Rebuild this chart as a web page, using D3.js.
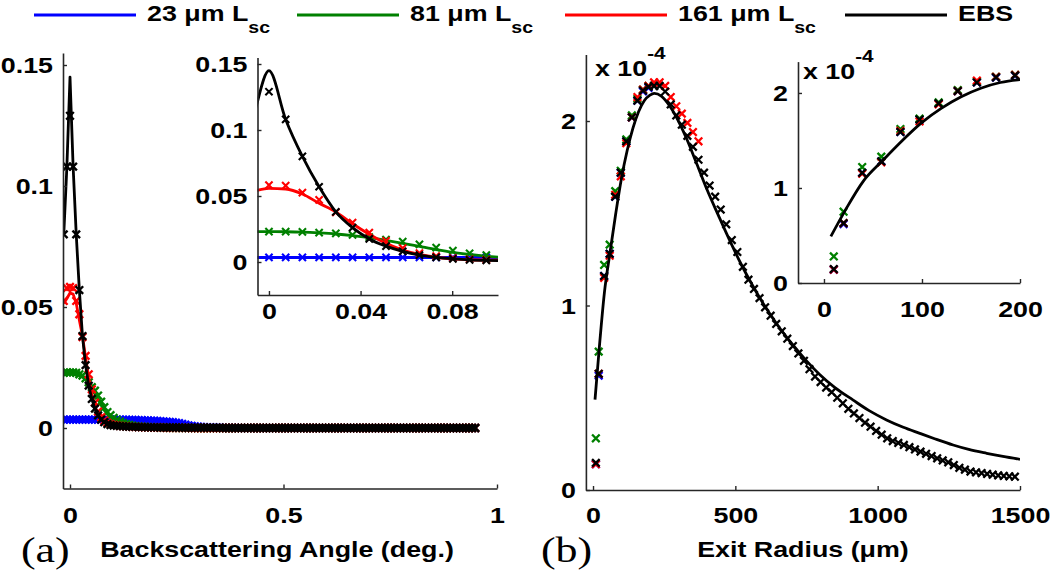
<!DOCTYPE html>
<html><head><meta charset="utf-8">
<script src="https://cdn.jsdelivr.net/npm/d3@7"></script>
<style>body{margin:0;background:#fff}svg{display:block}</style>
</head><body>
<svg id="chart" width="1050" height="573"></svg>
<script>
// ---------------- DATA ----------------
const seriesNames = ["23 \u03bcm L", "81 \u03bcm L", "161 \u03bcm L", "EBS"];
const seriesSubs = ["sc", "sc", "sc", ""];
const seriesColors = ["#0000ff", "#008000", "#ff0000", "#000000"];

// (a) backscattering angle grid: first sample and spacing (deg.)
const angleStart = -0.0146;
const angleStep = 0.0073;

// (a) simulated intensities, near the peak (samples k = -2 .. 13)
const blueNearA  = [0.0035,0.0035,0.0035,0.0035,0.0035,0.0035,0.0035,0.0035,0.0035,0.0035,0.0035,0.0035,0.0035,0.0035,0.0035,0.0035];
const greenNearA = [0.0228,0.0230,0.0230,0.0230,0.0228,0.0222,0.0217,0.0205,0.0189,0.0169,0.0154,0.0134,0.0109,0.0086,0.0066,0.0053];
const redNearA   = [0.0525,0.0578,0.0583,0.0578,0.0525,0.0470,0.0376,0.0298,0.0222,0.0160,0.0105,0.0068,0.0044,0.0030,0.0021,0.0016];
const blackNearA = [0.080,0.108,0.129,0.108,0.080,0.057,0.038,0.026,0.0175,0.012,0.0080,0.0052,0.0035,0.0024,0.0016,0.0012];

// (a) tails (samples k = 14 .. 130)
const blueTailA = [
0.0035,0.0035,0.0034,0.0034,0.0034,0.0033,0.0033,0.0033,0.0032,0.0032,
0.0031,0.0031,0.0030,0.0030,0.0029,0.0028,0.0027,0.0026,0.0025,0.0024,
0.0022,0.0020,0.0017,0.0014,0.0011,0.0009,0.0007,0.0006,0.0005,0.0004,
0.0003,0.0003,0.0002,0.0002,0.0002,0.0001,0.0001,0.0001,0.0001,0.0001,
0,0,0,0,0,0,0,0,0,0, 0,0,0,0,0,0,0,0,0,0, 0,0,0,0,0,0,0,0,0,0,
0,0,0,0,0,0,0,0,0,0, 0,0,0,0,0,0,0,0,0,0, 0,0,0,0,0,0,0,0,0,0,
0,0,0,0,0,0,0,0,0,0, 0,0,0,0,0,0,0];
const greenTailA = [
0.0042,0.0033,0.0026,0.0020,0.0016,0.0013,0.0010,0.0008,0.0007,0.0006,
0.0005,0.0004,0.0004,0.0003,0.0003,0.0002,0.0002,0.0002,0.0001,0.0001,
0.0001,0.0001,0.0001,0.0001,0.0001,0,0,0,0,0,
0,0,0,0,0,0,0,0,0,0, 0,0,0,0,0,0,0,0,0,0, 0,0,0,0,0,0,0,0,0,0,
0,0,0,0,0,0,0,0,0,0, 0,0,0,0,0,0,0,0,0,0, 0,0,0,0,0,0,0,0,0,0,
0,0,0,0,0,0,0,0,0,0, 0,0,0,0,0,0,0,0,0,0, 0,0,0,0,0,0,0];
const redTailA = [
0.0013,0.0011,0.0009,0.0008,0.0007,0.0006,0.0005,0.0005,0.0004,0.0004,
0.0003,0.0003,0.0003,0.0002,0.0002,0.0002,0.0002,0.0001,0.0001,0.0001,
0.0001,0.0001,0.0001,0.0001,0.0001,0,0,0,0,0,
0,0,0,0,0,0,0,0,0,0, 0,0,0,0,0,0,0,0,0,0, 0,0,0,0,0,0,0,0,0,0,
0,0,0,0,0,0,0,0,0,0, 0,0,0,0,0,0,0,0,0,0, 0,0,0,0,0,0,0,0,0,0,
0,0,0,0,0,0,0,0,0,0, 0,0,0,0,0,0,0,0,0,0, 0,0,0,0,0,0,0];
const blackTailA = [
0.0010,0.0009,0.0008,0.0007,0.0006,0.0006,0.0005,0.0005,0.0004,0.0004,
0.0004,0.0003,0.0003,0.0003,0.0003,0.0002,0.0002,0.0002,0.0002,0.0002,
0.0002,0.0002,0.0001,0.0001,0.0001,0.0001,0.0001,0.0001,0.0001,0.0001,
0.0001,0.0001,0.0001,0.0001,0.0001,0,0,0,0,0,
0,0,0,0,0,0,0,0,0,0, 0,0,0,0,0,0,0,0,0,0, 0,0,0,0,0,0,0,0,0,0,
0,0,0,0,0,0,0,0,0,0, 0,0,0,0,0,0,0,0,0,0, 0,0,0,0,0,0,0,0,0,0,
0,0,0,0,0,0,0,0,0,0, 0,0,0,0,0,0,0];

// (a) fitted / theory curves (samples k = -2 .. 14)
const blueFitA  = [0.0034,0.0034,0.0034,0.0034,0.0034,0.0034,0.0034,0.0034,0.0034,0.0034,0.0034,0.0034,0.0034,0.0034,0.0034,0.0034,0.0034];
const greenFitA = [0.0229,0.0230,0.0230,0.0229,0.0226,0.0220,0.0212,0.0200,0.0184,0.0164,0.0142,0.0118,0.0094,0.0073,0.0057,0.0044,0.0035];
const redFitA   = [0.0515,0.0535,0.0558,0.0553,0.0515,0.0445,0.0380,0.0290,0.0210,0.0141,0.0091,0.0058,0.0036,0.0024,0.0017,0.0015,0.0014];
const ebsLineA  = [0.080,0.108,0.145,0.108,0.080,0.057,0.038,0.026,0.0175,0.012,0.0080,0.0052,0.0035,0.0024,0.0016,0.0012,0.0010];

// (b) exit radius samples (um) and simulated intensities (x 1e-4)
const radiusB = [10,20,39,58.5,78,97.5,117,136.5,156,175.5,195,214.5,234,253.5,273,292.5,312,331.5,351,370.5,
390,409.5,429,448.5,468,487.5,507,526.5,546,565.5,585,604.5,624,643.5,663,682.5,702,721.5,741,760.5,
780,799.5,819,838.5,858,877.5,897,916.5,936,955.5,975,994.5,1014,1033.5,1053,1072.5,1092,1111.5,1131,1150.5,
1170,1189.5,1209,1228.5,1248,1267.5,1287,1306.5,1326,1345.5,1365,1384.5,1404,1423.5,1443,1462.5,1482];
const blueB  = [0.14,0.62,1.16,1.28,1.59,1.72,1.89,2.02,2.11,2.16,2.18,2.19];
const greenB = [0.28,0.75,1.22,1.33,1.62,1.73,1.90,2.03,2.12,2.17,2.19,2.19];
const redB   = [0.14,0.63,1.15,1.27,1.60,1.70,1.88,2.02,2.13,2.17,2.19,2.21,2.21,2.19,2.13,2.08,2.04,1.99,1.94,1.89];
const blackB = [0.147,0.63,1.16,1.28,1.59,1.72,1.89,2.02,2.11,2.165,2.185,2.19,2.19,2.16,2.09,2.03,1.98,1.92,1.86,1.79,
1.72,1.65,1.59,1.52,1.44,1.355,1.29,1.21,1.14,1.09,1.04,0.99,0.945,0.90,0.86,0.82,0.78,0.74,0.70,0.655,
0.615,0.585,0.555,0.53,0.50,0.47,0.44,0.415,0.39,0.365,0.343,0.32,0.30,0.28,0.265,0.255,0.244,0.232,0.22,0.208,
0.196,0.184,0.172,0.16,0.15,0.135,0.12,0.11,0.10,0.096,0.092,0.087,0.083,0.079,0.076,0.074,0.072];
// (b) EBS theory curve
const radiusLineB = [7,22,40,60,80,100,120,140,160,180,200,215,240,270,300,330,364,400,440,481,520,560,600,650,700,750,797,850,914,970,1031,1090,1148,1200,1265,1320,1383,1440,1500];
const ebsLineB = [0.49,0.77,1.07,1.29,1.50,1.69,1.84,1.96,2.05,2.11,2.14,2.15,2.135,2.08,2.00,1.90,1.77,1.63,1.49,1.35,1.225,1.11,1.005,0.89,0.79,0.70,0.625,0.555,0.487,0.43,0.38,0.34,0.307,0.278,0.244,0.22,0.199,0.182,0.166];

// tick values
const ticksAX = [0, 0.5, 1], ticksAY = [0, 0.05, 0.1, 0.15];
const ticksAIX = [0, 0.04, 0.08], ticksAIY = [0, 0.05, 0.1, 0.15];
const ticksBX = [0, 500, 1000, 1500], ticksBY = [0, 1, 2];
const ticksBIX = [0, 100, 200], ticksBIY = [0, 1, 2];

// ---------------- DRAWING ----------------
const SX = 1.22;                 // horizontal stretch of the original figure
const SANS = "'Liberation Sans', Arial, Helvetica, sans-serif";
const SERIF = "'Liberation Serif', 'Times New Roman', serif";
const AXC = "#262626";
const svg = d3.select("#chart");
const defs = svg.append("defs");

function pts(xs, ys) { return ys.map((v, i) => ({x: xs[i], y: v})); }
const angleAt = i => angleStart + i * angleStep;
const angNear = blackNearA.map((_, i) => angleAt(i));
const angTail = blackTailA.map((_, i) => angleAt(i + blackNearA.length));
const angFit = ebsLineA.map((_, i) => angleAt(i));

const markersA = [
  pts(angNear, blueNearA).concat(pts(angTail, blueTailA)),
  pts(angNear, greenNearA).concat(pts(angTail, greenTailA)),
  pts(angNear, redNearA).concat(pts(angTail, redTailA)),
  pts(angNear, blackNearA).concat(pts(angTail, blackTailA))
];
const linesA = [pts(angFit, blueFitA), pts(angFit, greenFitA), pts(angFit, redFitA), pts(angFit, ebsLineA)];
const markersB = [pts(radiusB, blueB), pts(radiusB, greenB), pts(radiusB, redB), pts(radiusB, blackB)];
const linesB = [[], [], [], pts(radiusLineB, ebsLineB)];

let clipId = 0;
function panel(x, y, xt, yt, xOff, markers, lines, curve, mk) {
  const g = svg.append("g");
  const id = "clip" + (clipId++);
  const [x0, x1] = x.range(), [y0, y1] = y.range();
  defs.append("clipPath").attr("id", id).append("rect")
    .attr("x", x0).attr("y", y1).attr("width", x1 - x0).attr("height", y0 - y1);
  const plot = g.append("g").attr("clip-path", `url(#${id})`);
  const line = d3.line().x(d => x(d.x)).y(d => y(d.y)).curve(curve);
  const [dx0, dx1] = x.domain(), [dy0, dy1] = y.domain();
  const r = mk.r;
  for (let s = 0; s < 4; s++) {
    if (lines[s].length) plot.append("path").datum(lines[s]).attr("d", line)
      .attr("fill", "none").attr("stroke", seriesColors[s]).attr("stroke-width", 2.8).attr("stroke-linejoin", "round");
    plot.append("g").selectAll("path")
      .data(markers[s].filter(d => d.x >= dx0 && d.x <= dx1 && d.y >= dy0 && d.y <= dy1))
      .join("path")
      .attr("d", `M${-r},${-r}L${r},${r}M${-r},${r}L${r},${-r}`)
      .attr("transform", d => `translate(${x(d.x)},${y(d.y)})`)
      .attr("stroke", seriesColors[s]).attr("stroke-width", mk.w).attr("fill", "none");
  }
  const fmt = d => String(d);
  const xa = g.append("g").attr("transform", `translate(0,${y0})`)
    .call(d3.axisBottom(x).tickValues(xt).tickFormat(fmt).tickSizeInner(-4).tickSizeOuter(0));
  const ya = g.append("g").attr("transform", `translate(${x0},0)`)
    .call(d3.axisLeft(y).tickValues(yt).tickFormat(fmt).tickSizeInner(-4).tickSizeOuter(0));
  [xa, ya].forEach(a => {
    a.select(".domain").attr("stroke", AXC).attr("stroke-width", 1.6);
    a.selectAll(".tick line").attr("stroke", AXC).attr("stroke-width", 1.4);
    a.selectAll(".tick text").attr("font-family", SANS).attr("font-weight", "bold")
      .attr("font-size", 22).attr("fill", "#000");
  });
  xa.selectAll(".tick text").attr("y", 0).attr("dy", null)
    .attr("transform", `translate(0,${xOff}) scale(${SX},1)`);
  ya.selectAll(".tick text").attr("x", 0).attr("dy", "0.36em")
    .attr("transform", `translate(-10,0) scale(${SX},1)`);
  return g;
}

function stext(x, y, str, opts = {}) {
  const t = svg.append("text")
    .attr("transform", `translate(${x},${y}) scale(${SX},1)`)
    .attr("font-family", opts.family || SANS)
    .attr("font-weight", opts.weight || "bold")
    .attr("font-size", opts.size || 22)
    .attr("text-anchor", opts.anchor || "start")
    .attr("fill", "#000");
  t.append("tspan").text(str);
  return t;
}

// Panel (a)
const xA = d3.scaleLinear().domain([-0.0164, 1]).range([63, 497]);
const yA = d3.scaleLinear().domain([-0.025, 0.155]).range([488.5, 52.9]);
panel(xA, yA, ticksAX, ticksAY, 34.5, markersA, linesA, d3.curveLinear, {r: 3.8, w: 2.4});
const xAI = d3.scaleLinear().domain([-0.005, 0.1]).range([257.5, 498]);
const yAI = d3.scaleLinear().domain([-0.025, 0.155]).range([295, 57.4]);
panel(xAI, yAI, ticksAIX, ticksAIY, 24, markersA, linesA, d3.curveMonotoneX, {r: 3.6, w: 2.1});

// Panel (b)
const xB = d3.scaleLinear().domain([-25, 1500]).range([585.9, 1020]);
const yB = d3.scaleLinear().domain([0, 2.36]).range([490, 54.6]);
panel(xB, yB, ticksBX, ticksBY, 33, markersB, linesB, d3.curveMonotoneX, {r: 3.8, w: 2.3});
const xBI = d3.scaleLinear().domain([-26.5, 200]).range([798, 1020]);
const yBI = d3.scaleLinear().domain([0, 2.33]).range([283, 61.6]);
panel(xBI, yBI, ticksBIX, ticksBIY, 34, markersB, linesB, d3.curveMonotoneX, {r: 3.8, w: 2.3});

// exponent labels
[[595, 76], [803, 79]].forEach(([px, py]) => {
  const t = stext(px, py, "x 10");
  t.append("tspan").attr("dy", -17).attr("font-size", 17).text("-4");
});

// axis titles and panel letters
stext(277, 557, "Backscattering Angle (deg.)", {anchor: "middle"});
stext(803, 557, "Exit Radius (\u03bcm)", {anchor: "middle"});
stext(21, 562, "(a)", {family: SERIF, weight: "normal", size: 36});
stext(541, 562, "(b)", {family: SERIF, weight: "normal", size: 36});

// legend
const legendX = [34, 297, 565, 845];
seriesNames.forEach((name, i) => {
  svg.append("line").attr("x1", legendX[i]).attr("x2", legendX[i] + 102)
    .attr("y1", 15).attr("y2", 15).attr("stroke", seriesColors[i]).attr("stroke-width", 3);
  const t = stext(legendX[i] + 113, 21, name);
  if (seriesSubs[i]) t.append("tspan").attr("dy", 12).attr("font-size", 16).text(seriesSubs[i]);
});
</script>
</body></html>
